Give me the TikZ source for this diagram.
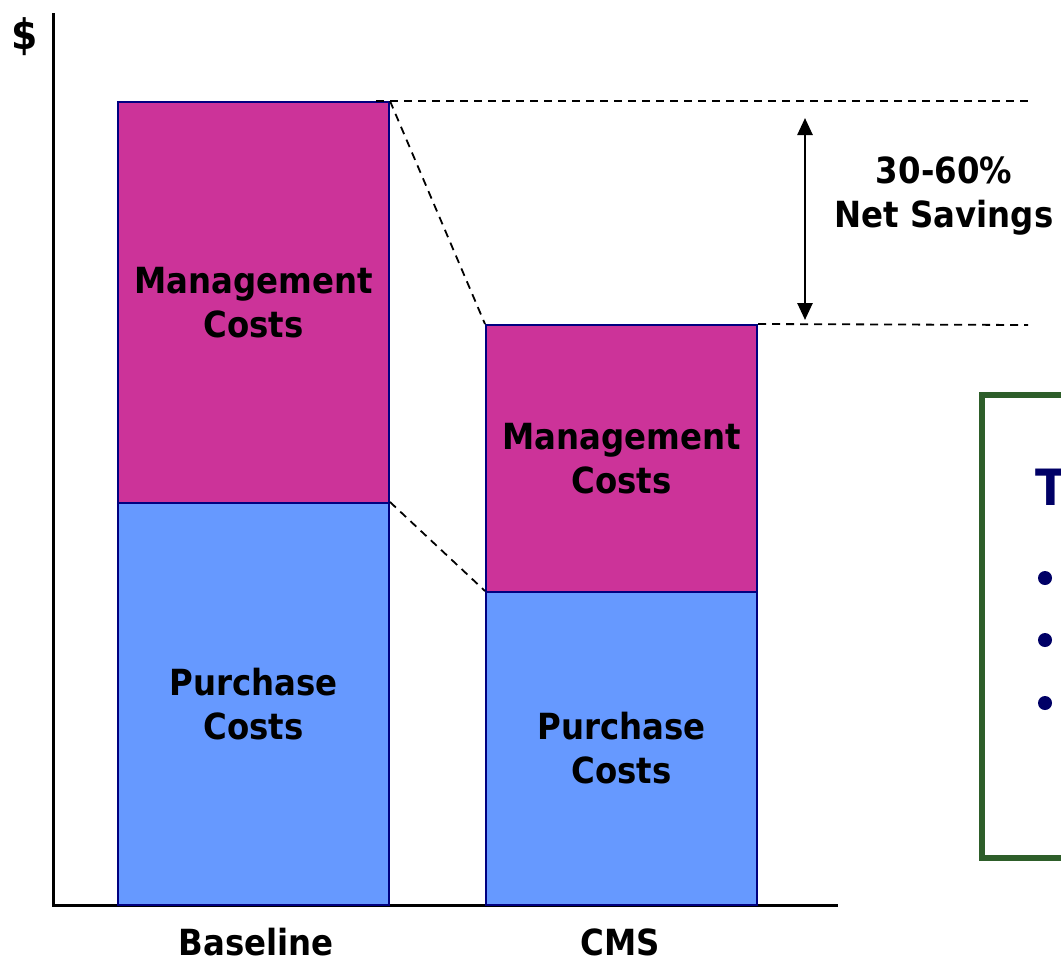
\documentclass[tikz,border=0pt]{standalone}
\usepackage{fontspec}
\setmainfont{DejaVu Sans Condensed}
\usepackage{tikz}
\usetikzlibrary{arrows.meta}

\definecolor{mgmt}{HTML}{CC3399}
\definecolor{purch}{HTML}{6699FF}
\definecolor{edgeblue}{HTML}{000080}
\definecolor{boxgreen}{HTML}{2E5E2A}
\definecolor{navytext}{HTML}{000066}

\begin{document}
\begin{tikzpicture}
  [x=1pt,y=-1pt,
   every node/.style={font=\fontsize{36}{44}\selectfont\bfseries,align=center},
   bar/.style={draw=edgeblue,line width=2pt,inner sep=0pt,
     minimum width=271pt},
   guide/.style={dash pattern=on 8pt off 6pt,line width=1.8pt}]

  \useasboundingbox (0,0) rectangle (1061,962);
  \clip (0,0) rectangle (1061,962);

  % axes
  \draw[line width=3pt] (53,13) -- (53,905) -- (838,905);
  \node[font=\fontsize{42}{44}\selectfont\bfseries] (dollar) at (25,37) {\$};

  % bars
  \node[bar,fill=purch,minimum height=402pt] (bp) at (253.5,704) {Purchase\\Costs};
  \node[bar,fill=mgmt,minimum height=401pt] (bm) at (253.5,302.5) {Management\\Costs};
  \node[bar,fill=purch,minimum height=313pt] (cp) at (621.5,748.5) {Purchase\\Costs};
  \node[bar,fill=mgmt,minimum height=267pt] (cm) at (621.5,458.5) {Management\\Costs};

  \node[inner sep=0pt,anchor=base] (baseline) at (256,955) {Baseline};
  \node[inner sep=0pt,anchor=base] (cms) at (620,955) {CMS};

  % savings
  \coordinate (topend) at (1028,103);
  \coordinate (lowend) at (1028,325);
  \draw[guide] ([xshift=-14pt]bm.north east) -- (bm.north east -| topend);
  \draw[guide] (cm.north east) -- (lowend);
  \draw[guide] (bm.north east) -- (cm.north west);
  \draw[guide] (bp.north east) -- (cp.north west);

  \coordinate (arrtop) at (805,118);
  \coordinate (arrbot) at (805,320);
  \draw[line width=2.6pt,{Triangle[width=15pt,length=17pt]}-{Triangle[width=15pt,length=17pt]}]
    (arrtop) -- (arrbot);
  \node (savings) at (944,196) {30-60\%\\Net Savings};

  % side box
  \draw[boxgreen,line width=6pt] (1100,395) -- (982,395) -- (982,858) -- (1100,858);
  \node[navytext,font=\fontsize{50}{50}\selectfont\bfseries,inner sep=0pt,anchor=base west]
    (title) at (1035,505) {T};
  \foreach \y in {578,640,703}
    \fill[navytext] (1045,\y) circle (7pt);
\end{tikzpicture}
\end{document}
